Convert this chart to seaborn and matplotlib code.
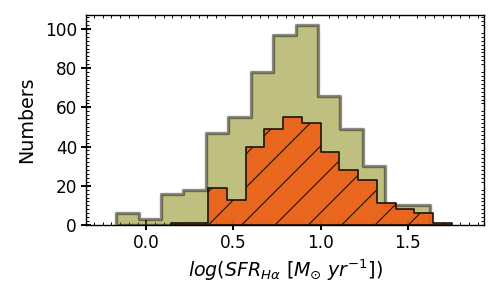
import numpy as np
import seaborn as sns
import matplotlib.pyplot as plt
from matplotlib.ticker import MultipleLocator

# histogram bins and counts
all_edges = list(np.linspace(-0.173, 1.628, 15))
all_counts = [6, 3, 16, 18, 47, 55, 78, 97, 102, 66, 49, 30, 10, 10]

sub_edges = list(np.linspace(0.140, 1.753, 16))
sub_counts = [1, 1, 19, 13, 40, 49, 55, 52, 37, 28, 23, 11, 8, 6, 1]

x_ticks = [0.0, 0.5, 1.0, 1.5]
y_ticks = [0, 20, 40, 60, 80, 100]

plt.rcParams['hatch.linewidth'] = 0.8
plt.rcParams['font.family'] = ['DejaVu Sans']

fig, ax = plt.subplots(figsize=(5, 3), dpi=100)
fig.subplots_adjust(left=0.172, right=0.969, top=0.95, bottom=0.25)

all_centers = [(a + b) / 2 for a, b in zip(all_edges[:-1], all_edges[1:])]
sub_centers = [(a + b) / 2 for a, b in zip(sub_edges[:-1], sub_edges[1:])]

sns.histplot(x=all_centers, weights=all_counts, bins=all_edges, element="step",
             fill=True, color="olive", alpha=0.5, edgecolor=(0, 0, 0, 0.45),
             linewidth=2.4, ax=ax)
sns.histplot(x=sub_centers, weights=sub_counts, bins=sub_edges, element="step",
             fill=True, color="#ee5c14", alpha=0.9, edgecolor=(0.1, 0.08, 0.05),
             linewidth=1.2, hatch="/", ax=ax)

ax.set_xlim(-0.346, 1.94)
ax.set_xticks(x_ticks)
ax.set_yticks(y_ticks)
ax.xaxis.set_minor_locator(MultipleLocator(0.05))
ax.yaxis.set_minor_locator(MultipleLocator(2))
ax.set_axisbelow(True)

ax.tick_params(which="major", direction="inout", length=6.8, width=1.4,
               labelsize=12.2, pad=3, top=False, right=False)
ax.tick_params(which="minor", direction="in", length=2.4, width=0.7,
               top=True, right=True)
for s in ax.spines.values():
    s.set_linewidth(1.0)

ax.set_xlabel(r"$log(SFR_{H\alpha}\ [M_{\odot}\ yr^{-1}])$", fontsize=13.7, labelpad=4)
ax.set_ylabel("Numbers", fontsize=13.7, labelpad=6)

fig.savefig("out.png", dpi=100)
